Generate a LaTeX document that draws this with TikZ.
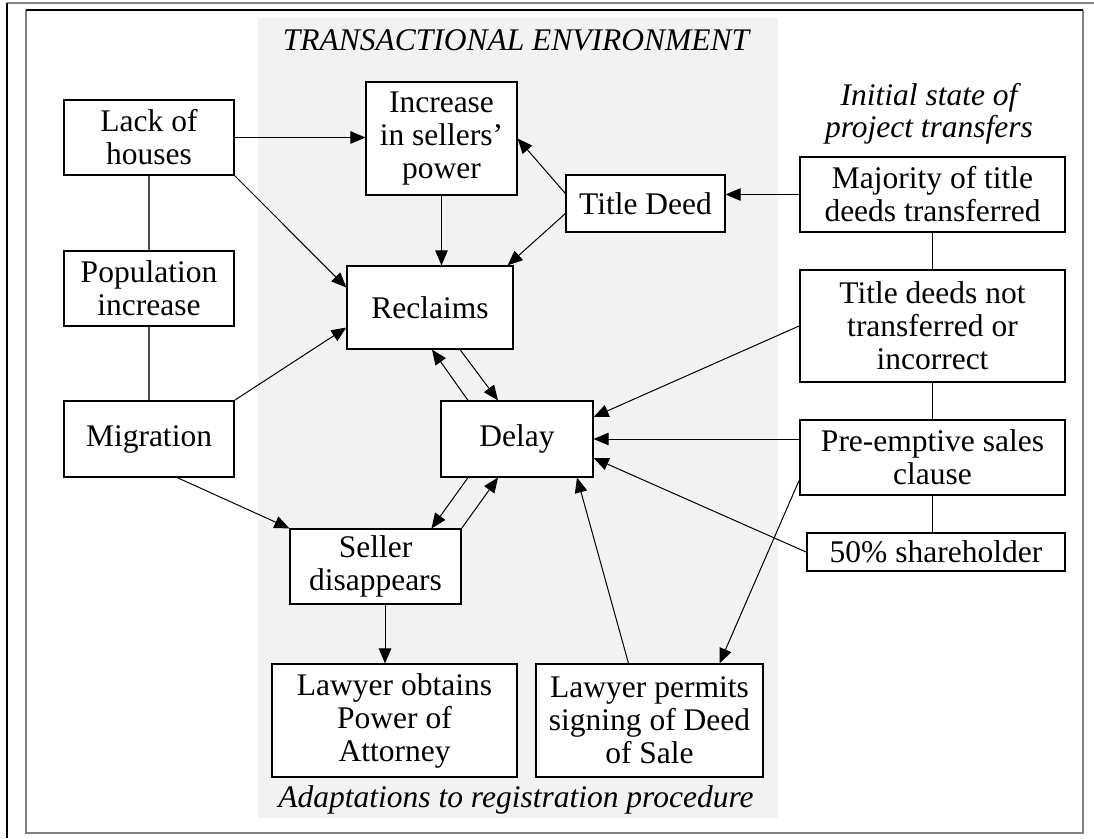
\documentclass[tikz,border=0pt]{standalone}
\usepackage{fontspec}
\setmainfont{Liberation Serif}
\usetikzlibrary{arrows.meta}
\definecolor{envgray}{RGB}{242,242,242}
\definecolor{framegray}{RGB}{128,128,128}
\begin{document}
\begin{tikzpicture}[x=1pt,y=-1pt,
  font=\fontsize{31.5}{33}\selectfont,
  outbox/.style={draw=black,line width=1.9pt,fill=white,inner sep=0pt,align=center},
  inbox/.style={draw=black,line width=1.2pt,fill=white,inner sep=0pt,align=center},
  arr/.style={-{Triangle[length=15pt,width=12.5pt]},line width=1pt},
  link/.style={line width=1.1pt,draw=black!70},
  heading/.style={font=\fontsize{31.5}{32}\selectfont\itshape,align=center,inner sep=0pt}
]
\useasboundingbox (0,0) rectangle (1094,838);
% environment and frames
\fill[envgray] (258,18) rectangle (778,818);
\draw[framegray,line width=1.5pt] (7,3) -- (1094,3);
\draw[black,line width=1.3pt] (7,3) -- (7,838);
\draw[framegray,line width=1.8pt] (26,10) -- (26,833) -- (1083,833) -- (1083,10);
\draw[black,line width=1.3pt] (26,10) -- (1083,10);

% headings
\node[heading] (hEnv) at (516,40) {TRANSACTIONAL ENVIRONMENT};
\node[heading] (hInit) at (929,114) {Initial state of\\project transfers};
\node[heading] (hAdapt) at (516,800) {Adaptations to registration procedure};

% left column
\node[outbox,minimum width=170pt,minimum height=75pt] (lack) at (149,137.5) {Lack of\\houses};
\node[outbox,minimum width=170pt,minimum height=75pt] (pop) at (149,288.5) {Population\\increase};
\node[outbox,minimum width=170pt,minimum height=76pt] (mig) at (149,439) {Migration};

% environment boxes
\node[inbox,minimum width=151pt,minimum height=113pt] (inc) at (441.5,138.5) {Increase\\in sellers’\\power};
\node[inbox,minimum width=159pt,minimum height=57pt] (td) at (645.5,203.5) {Title Deed};
\node[inbox,minimum width=166pt,minimum height=83pt] (rec) at (430,307.5) {Reclaims};
\node[inbox,minimum width=152pt,minimum height=76pt] (delay) at (517,439) {Delay};
\node[inbox,minimum width=171pt,minimum height=75pt] (seller) at (375.5,566.5) {Seller\\disappears};
\node[inbox,minimum width=245pt,minimum height=113pt] (lob) at (394.5,720.5) {Lawyer obtains\\Power of\\Attorney};
\node[inbox,minimum width=227pt,minimum height=113pt] (lps) at (649.5,720.5) {Lawyer permits\\signing of Deed\\of Sale};

% right column
\node[outbox,minimum width=265pt,minimum height=75pt] (maj) at (932.5,194.5) {Majority of title\\deeds transferred};
\node[outbox,minimum width=265pt,minimum height=112pt] (tdn) at (932.5,326) {Title deeds not\\transferred or\\incorrect};
\node[outbox,minimum width=265pt,minimum height=75pt] (pre) at (932.5,457.5) {Pre-emptive sales\\clause};
\node[outbox,minimum width=258pt,minimum height=38pt] (sh) at (936,552) {50\% shareholder};

% plain links
\draw[link] (lack.south) -- (pop.north);
\draw[link] (pop.south) -- (mig.north);
\draw[link,draw=black] (maj.south) -- (tdn.north);
\draw[link,draw=black] (tdn.south) -- (pre.north);
\draw[link,draw=black] (pre.south) -- (pre.south |- sh.north);

% arrows
\draw[arr] (lack.east) -- (lack.east -| inc.west);
\draw[arr] (lack.south east) -- ([yshift=20pt]rec.west);
\draw[arr] (mig.north east) -- ([yshift=-20pt]rec.west);
\draw[arr] ([xshift=29pt]mig.south) -- (seller.north west);
\draw[arr] (inc.south) -- (inc.south |- rec.north);
\draw[arr] ([yshift=10pt]td.west) -- (inc.east);
\draw[arr] ([yshift=-10pt]td.west) -- ([xshift=-6pt]rec.north east);
\draw[arr] (maj.west) -- (maj.west -| td.east);
\draw[arr] (tdn.west) -- ([yshift=22pt]delay.east);
\draw[arr] (delay.east -| pre.west) -- (delay.east);
\draw[arr] (sh.west) -- ([yshift=-19pt]delay.east);
\draw[arr] ([yshift=-23pt]pre.west) -- ([xshift=70pt]lps.north);
\draw[arr] ([xshift=-21pt]lps.north) -- ([xshift=60pt]delay.south);
\draw[arr] ([xshift=30pt]rec.south) -- ([xshift=-19pt]delay.north);
\draw[arr] ([xshift=-49pt]delay.north) -- ([xshift=2pt]rec.south);
\draw[arr] ([xshift=-49pt]delay.south) -- ([xshift=56pt]seller.north);
\draw[arr] (seller.north east) -- ([xshift=-19pt]delay.south);
\draw[arr] ([xshift=9.5pt]seller.south) -- ([xshift=9.5pt]seller.south |- lob.north);
\end{tikzpicture}
\end{document}
